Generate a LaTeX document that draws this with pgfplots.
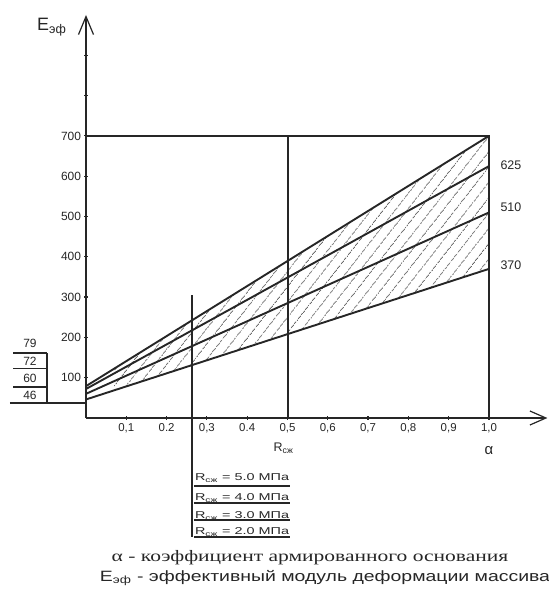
\documentclass[border=0pt]{standalone}
\usepackage{fontspec}
\setmainfont{Liberation Sans}
\newfontfamily\capserif{Liberation Serif}
\usepackage{graphicx}
\usepackage{pgfplots}
\pgfplotsset{compat=1.18}
\usepgfplotslibrary{fillbetween}
\usetikzlibrary{patterns.meta,arrows.meta}
\colorlet{ink}{black!85}
\tikzset{tlabel/.style={font=\fontsize{10}{11}\selectfont, text=ink, anchor=west, inner sep=0pt}}

\begin{document}
\begin{tikzpicture}
\begin{axis}[
	at={(0,0)}, anchor=south west,
	width=461.4bp, height=403bp, scale only axis,
	xmin=0, xmax=1.145,
	ymin=0, ymax=1000,
	axis lines=left,
	clip=false,
	axis line style={ink, line width=1.6bp},
	x axis line style={-{Straight Barb[length=16bp,width=14bp,line width=1.2bp]}},
	y axis line style={-{Straight Barb[length=18bp,width=15bp,line width=1.2bp]}},
	xtick={0.1,0.2,0.3,0.4,0.5,0.6,0.7,0.8,0.9,1.0},
	xticklabels={{0,1},{0.2},{0,3},{0.4},{0,5},{0,6},{0,7},{0,8},{0,9},{1,0}},
	ytick={100,200,300,400,500,600,700,800,900},
	yticklabels={100,200,300,400,500,600,700,{},{}},
	tick style={ink, line width=1.2bp},
	major tick length=3bp,
	/pgf/number format/assume math mode=true,
	xticklabel style={font=\fontsize{11.5}{12}\selectfont, text=ink},
	yticklabel style={font=\fontsize{12}{13}\selectfont, text=ink},
]

% effective modulus lines, R = 5.0, 4.0, 3.0, 2.0 MPa
\addplot[name path=top, ink, line width=1.9bp] coordinates {(0,79) (1,700)};
\addplot[ink, line width=1.9bp] coordinates {(0,72) (1,625)};
\addplot[ink, line width=1.9bp] coordinates {(0,60) (1,510)};
\addplot[name path=bot, ink, line width=1.9bp] coordinates {(0,46) (1,370)};
\addplot[draw=none, pattern={Lines[angle=52,distance=9.5bp,line width=0.7bp]}, pattern color=black!60]
	fill between[of=top and bot, soft clip={domain=0.07:1}];

% frame lines
\addplot[ink, line width=1.8bp] coordinates {(0,700) (1,700) (1,0)};
\addplot[ink, line width=2bp] coordinates {(0.501,0) (0.501,700)};
\addplot[ink, line width=1.8bp] coordinates {(0.263,305) (0.263,-295)};

% end values
\node[anchor=west, font=\fontsize{12.5}{13}\selectfont, text=ink] at (axis cs:1.02,628) {625};
\node[anchor=west, font=\fontsize{12.5}{13}\selectfont, text=ink] at (axis cs:1.02,524) {510};
\node[anchor=west, font=\fontsize{12.5}{13}\selectfont, text=ink] at (axis cs:1.02,380) {370};

% start values table
\draw[ink, line width=1.3bp] (axis cs:-0.181,161) -- (axis cs:-0.097,161);
\draw[ink, line width=1.3bp] (axis cs:-0.181,122) -- (axis cs:-0.097,122);
\draw[ink, line width=1.3bp] (axis cs:-0.181,77) -- (axis cs:-0.097,77);
\draw[ink, line width=1.6bp] (axis cs:-0.189,37) -- (axis cs:0,37);
\draw[ink, line width=1.3bp] (axis cs:-0.097,161) -- (axis cs:-0.097,37);
\node[font=\fontsize{12}{13}\selectfont, text=ink] at (axis cs:-0.139,184) {79};
\node[font=\fontsize{12}{13}\selectfont, text=ink] at (axis cs:-0.139,141) {72};
\node[font=\fontsize{12}{13}\selectfont, text=ink] at (axis cs:-0.139,99) {60};
\node[font=\fontsize{12}{13}\selectfont, text=ink] at (axis cs:-0.139,57) {46};

% axis names
\node[font=\fontsize{18}{19}\selectfont, text=ink] at (axis cs:-0.085,970) {E\textsubscript{эф}};
\node[font=\fontsize{12.5}{13}\selectfont, text=ink] at (axis cs:0.49,-75) {R\textsubscript{сж}};
\node[font=\fontsize{15}{16}\selectfont, text=ink] at (axis cs:1.0,-80) {α};

% strength table
\node[tlabel] at (axis cs:0.27,-149) {\scalebox{1.45}[1]{R\textsubscript{сж} = 5.0 МПа}};
\node[tlabel] at (axis cs:0.27,-199) {\scalebox{1.45}[1]{R\textsubscript{сж} = 4.0 МПа}};
\node[tlabel] at (axis cs:0.27,-243) {\scalebox{1.45}[1]{R\textsubscript{сж} = 3.0 МПа}};
\node[tlabel] at (axis cs:0.27,-283) {\scalebox{1.45}[1]{R\textsubscript{сж} = 2.0 МПа}};
\draw[ink, line width=1.3bp] (axis cs:0.268,-169) -- (axis cs:0.506,-169);
\draw[ink, line width=1.3bp] (axis cs:0.268,-211) -- (axis cs:0.506,-211);
\draw[ink, line width=1.3bp] (axis cs:0.268,-253) -- (axis cs:0.506,-253);
\draw[ink, line width=1.3bp] (axis cs:0.268,-295) -- (axis cs:0.506,-295);

% captions
\node[font=\capserif\fontsize{16}{17}\selectfont, text=ink] at (axis cs:0.556,-347) {\scalebox{1.35}[1]{α - коэффициент армированного основания}};
\node[font=\fontsize{15}{16}\selectfont, text=ink] at (axis cs:0.593,-397) {\scalebox{1.3}[1]{E\textsubscript{эф} - эффективный модуль деформации массива}};
\end{axis}
\pgfresetboundingbox
\useasboundingbox (-86bp,-172bp) rectangle (463bp,418bp);
\end{tikzpicture}
\end{document}
